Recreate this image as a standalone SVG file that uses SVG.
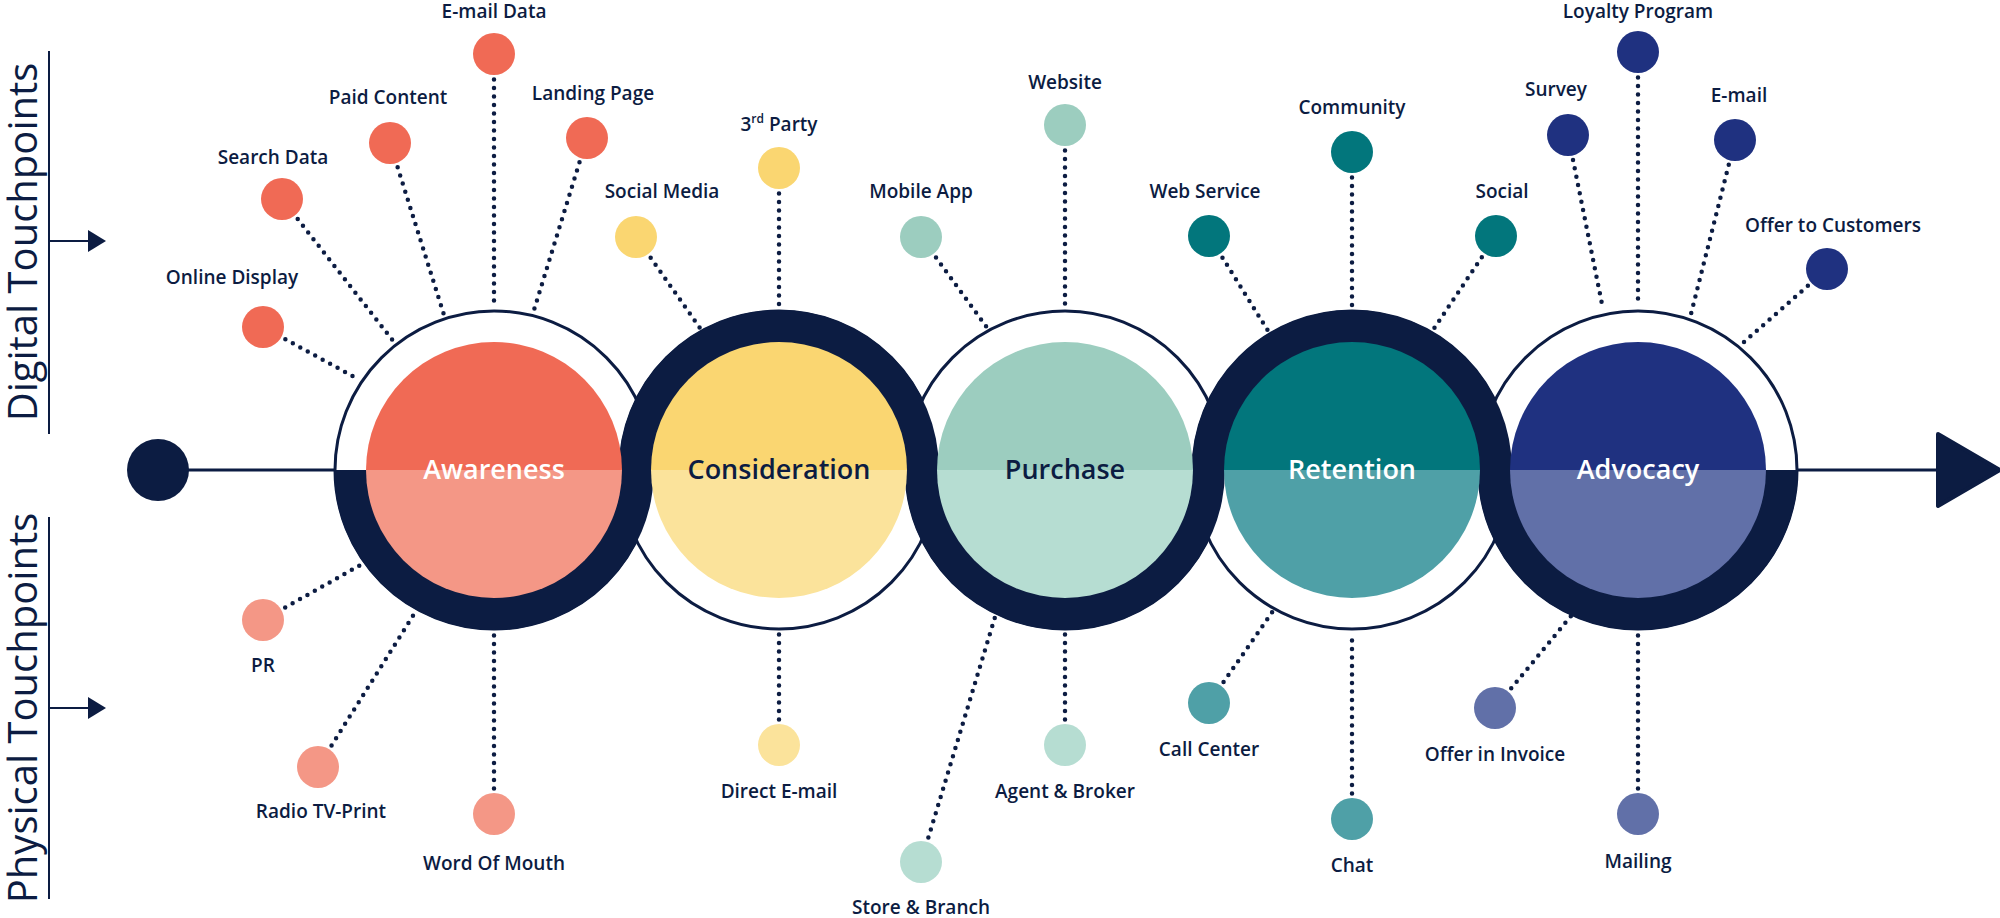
<svg xmlns="http://www.w3.org/2000/svg" width="2000" height="918" viewBox="0 0 2000 918">
<style>
.lb{font-family:"Open Sans","Noto Sans",sans-serif;font-size:19px;fill:#0c1c42;text-anchor:middle;font-weight:600}
.st{font-family:"Open Sans","Noto Sans",sans-serif;font-size:27px;text-anchor:middle;font-weight:600}
.ax{font-family:"Open Sans","Noto Sans",sans-serif;font-size:40px;fill:#0c1c42;text-anchor:middle;font-weight:400}
.dl{stroke:#0c1c42;stroke-width:4.5;stroke-linecap:round;stroke-dasharray:0 8.5;fill:none}
.bg{fill:#fff;stroke:#0c1c42;stroke-width:3}
.th{fill:#0c1c42}
</style>
<rect width="2000" height="918" fill="#fff"/>
<g id="axes" stroke="#0c1c42" stroke-width="2" fill="#0c1c42">
<line x1="49" y1="51" x2="49" y2="434"/>
<line x1="49" y1="241" x2="90" y2="241"/><path d="M88 230 L106 241 L88 252Z" stroke="none"/>
<line x1="49" y1="517" x2="49" y2="899"/>
<line x1="49" y1="708" x2="90" y2="708"/><path d="M88 697 L106 708 L88 719Z" stroke="none"/>
</g>
<text class="ax" transform="translate(37 242) rotate(-90)">Digital Touchpoints</text>
<text class="ax" transform="translate(37 708) rotate(-90)">Physical Touchpoints</text>
<g id="connectors">
<line x1="158" y1="470" x2="1940" y2="470" stroke="#0c1c42" stroke-width="3"/>
<path d="M1938 434 L2000 470 L1938 506Z" fill="#0c1c42" stroke="#0c1c42" stroke-width="4" stroke-linejoin="round"/>
<line class="dl" x1="263" y1="327" x2="358" y2="379"/>
<line class="dl" x1="282" y1="199" x2="394" y2="342"/>
<line class="dl" x1="390" y1="143" x2="444" y2="315"/>
<line class="dl" x1="494" y1="54" x2="494" y2="306"/>
<line class="dl" x1="587" y1="138" x2="534" y2="310"/>
<line class="dl" x1="263" y1="620" x2="364" y2="563"/>
<line class="dl" x1="318" y1="767" x2="416" y2="611"/>
<line class="dl" x1="494" y1="814" x2="494" y2="633"/>
<line class="dl" x1="636" y1="237" x2="700" y2="328"/>
<line class="dl" x1="779" y1="168" x2="779" y2="306"/>
<line class="dl" x1="779" y1="745" x2="779" y2="633"/>
<line class="dl" x1="921" y1="237" x2="988" y2="329"/>
<line class="dl" x1="1065" y1="125" x2="1065" y2="306"/>
<line class="dl" x1="921" y1="862" x2="995" y2="617"/>
<line class="dl" x1="1065" y1="745" x2="1065" y2="633"/>
<line class="dl" x1="1209" y1="236" x2="1270" y2="334"/>
<line class="dl" x1="1352" y1="152" x2="1352" y2="306"/>
<line class="dl" x1="1496" y1="236" x2="1431" y2="333"/>
<line class="dl" x1="1209" y1="703" x2="1273" y2="611"/>
<line class="dl" x1="1352" y1="819" x2="1352" y2="633"/>
<line class="dl" x1="1568" y1="135" x2="1603" y2="309"/>
<line class="dl" x1="1638" y1="52" x2="1638" y2="306"/>
<line class="dl" x1="1735" y1="140" x2="1691" y2="314"/>
<line class="dl" x1="1827" y1="269" x2="1744" y2="342"/>
<line class="dl" x1="1495" y1="708" x2="1571" y2="616"/>
<line class="dl" x1="1638" y1="814" x2="1638" y2="633"/>
</g>
<circle id="start" cx="158" cy="470" r="31" fill="#0c1c42"/>
<g id="rings">
<circle class="bg" cx="494" cy="470" r="159"/>
<circle class="bg" cx="779" cy="470" r="159"/>
<circle class="bg" cx="1065" cy="470" r="159"/>
<circle class="bg" cx="1352" cy="470" r="159"/>
<circle class="bg" cx="1638" cy="470" r="159"/>
<path class="th" d="M334 470 A160 160 0 0 0 654 470Z"/>
<path class="th" d="M619 470 A160 160 0 0 1 939 470Z"/>
<path class="th" d="M905 470 A160 160 0 0 0 1225 470Z"/>
<path class="th" d="M1192 470 A160 160 0 0 1 1512 470Z"/>
<path class="th" d="M1478 470 A160 160 0 0 0 1798 470Z"/>
</g>
<g id="awareness">
<path d="M366 470 A128 128 0 0 1 622 470Z" fill="#f06a55"/><path d="M366 470 A128 128 0 0 0 622 470Z" fill="#f49786"/>
<text class="st" x="494" y="479" fill="#fff">Awareness</text>
</g>
<g id="consideration">
<path d="M651 470 A128 128 0 0 1 907 470Z" fill="#fad671"/><path d="M651 470 A128 128 0 0 0 907 470Z" fill="#fbe39b"/>
<text class="st" x="779" y="479" fill="#0c1c42">Consideration</text>
</g>
<g id="purchase">
<path d="M937 470 A128 128 0 0 1 1193 470Z" fill="#9ccdbf"/><path d="M937 470 A128 128 0 0 0 1193 470Z" fill="#b6ddd2"/>
<text class="st" x="1065" y="479" fill="#0c1c42">Purchase</text>
</g>
<g id="retention">
<path d="M1224 470 A128 128 0 0 1 1480 470Z" fill="#02767c"/><path d="M1224 470 A128 128 0 0 0 1480 470Z" fill="#4fa0a7"/>
<text class="st" x="1352" y="479" fill="#fff">Retention</text>
</g>
<g id="advocacy">
<path d="M1510 470 A128 128 0 0 1 1766 470Z" fill="#1f3180"/><path d="M1510 470 A128 128 0 0 0 1766 470Z" fill="#6170a8"/>
<text class="st" x="1638" y="479" fill="#fff">Advocacy</text>
</g>
<g id="tp-online-display"><circle cx="263" cy="327" r="21" fill="#f06a55"/><text class="lb" x="232" y="284">Online Display</text></g>
<g id="tp-search-data"><circle cx="282" cy="199" r="21" fill="#f06a55"/><text class="lb" x="273" y="164">Search Data</text></g>
<g id="tp-paid-content"><circle cx="390" cy="143" r="21" fill="#f06a55"/><text class="lb" x="388" y="104">Paid Content</text></g>
<g id="tp-email-data"><circle cx="494" cy="54" r="21" fill="#f06a55"/><text class="lb" x="494" y="18">E-mail Data</text></g>
<g id="tp-landing-page"><circle cx="587" cy="138" r="21" fill="#f06a55"/><text class="lb" x="593" y="100">Landing Page</text></g>
<g id="tp-pr"><circle cx="263" cy="620" r="21" fill="#f49786"/><text class="lb" x="263" y="672">PR</text></g>
<g id="tp-radio"><circle cx="318" cy="767" r="21" fill="#f49786"/><text class="lb" x="321" y="818">Radio TV-Print</text></g>
<g id="tp-wom"><circle cx="494" cy="814" r="21" fill="#f49786"/><text class="lb" x="494" y="870">Word Of Mouth</text></g>
<g id="tp-social-media"><circle cx="636" cy="237" r="21" fill="#fad671"/><text class="lb" x="662" y="198">Social Media</text></g>
<g id="tp-3rd-party"><circle cx="779" cy="168" r="21" fill="#fad671"/><text class="lb" x="779" y="131">3<tspan font-size="12" dy="-8">rd</tspan><tspan dy="8"> Party</tspan></text></g>
<g id="tp-direct-email"><circle cx="779" cy="745" r="21" fill="#fbe39b"/><text class="lb" x="779" y="798">Direct E-mail</text></g>
<g id="tp-mobile-app"><circle cx="921" cy="237" r="21" fill="#9ccdbf"/><text class="lb" x="921" y="198">Mobile App</text></g>
<g id="tp-website"><circle cx="1065" cy="125" r="21" fill="#9ccdbf"/><text class="lb" x="1065" y="89">Website</text></g>
<g id="tp-store"><circle cx="921" cy="862" r="21" fill="#b6ddd2"/><text class="lb" x="921" y="914">Store &amp; Branch</text></g>
<g id="tp-agent"><circle cx="1065" cy="745" r="21" fill="#b6ddd2"/><text class="lb" x="1065" y="798">Agent &amp; Broker</text></g>
<g id="tp-web-service"><circle cx="1209" cy="236" r="21" fill="#02767c"/><text class="lb" x="1205" y="198">Web Service</text></g>
<g id="tp-community"><circle cx="1352" cy="152" r="21" fill="#02767c"/><text class="lb" x="1352" y="114">Community</text></g>
<g id="tp-social"><circle cx="1496" cy="236" r="21" fill="#02767c"/><text class="lb" x="1502" y="198">Social</text></g>
<g id="tp-call-center"><circle cx="1209" cy="703" r="21" fill="#4fa0a7"/><text class="lb" x="1209" y="756">Call Center</text></g>
<g id="tp-chat"><circle cx="1352" cy="819" r="21" fill="#4fa0a7"/><text class="lb" x="1352" y="872">Chat</text></g>
<g id="tp-survey"><circle cx="1568" cy="135" r="21" fill="#1f3180"/><text class="lb" x="1556" y="96">Survey</text></g>
<g id="tp-loyalty"><circle cx="1638" cy="52" r="21" fill="#1f3180"/><text class="lb" x="1638" y="18">Loyalty Program</text></g>
<g id="tp-email"><circle cx="1735" cy="140" r="21" fill="#1f3180"/><text class="lb" x="1739" y="102">E-mail</text></g>
<g id="tp-offer-customers"><circle cx="1827" cy="269" r="21" fill="#1f3180"/><text class="lb" x="1833" y="232">Offer to Customers</text></g>
<g id="tp-offer-invoice"><circle cx="1495" cy="708" r="21" fill="#6170a8"/><text class="lb" x="1495" y="761">Offer in Invoice</text></g>
<g id="tp-mailing"><circle cx="1638" cy="814" r="21" fill="#6170a8"/><text class="lb" x="1638" y="868">Mailing</text></g>
</svg>
